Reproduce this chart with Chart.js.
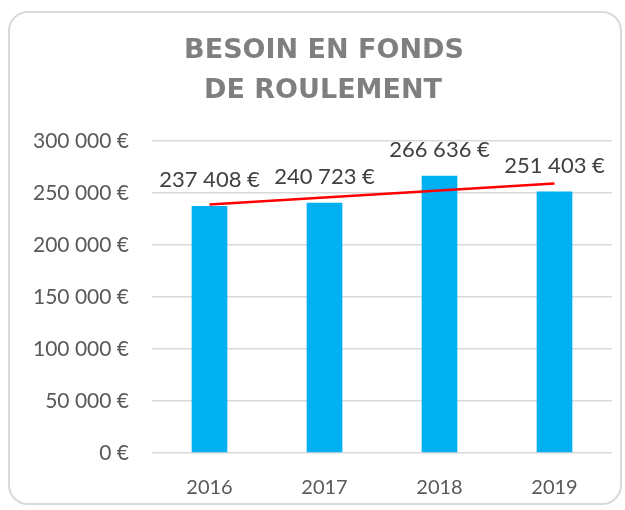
<!DOCTYPE html>
<html>
<head>
<meta charset="utf-8">
<script src="https://cdn.jsdelivr.net/npm/chart.js@4/dist/chart.umd.min.js"></script>
<style>
  html, body { margin: 0; padding: 0; background: #fff; }
  #wrap { position: relative; width: 625px; height: 510px; overflow: hidden; }
  #frame {
    position: absolute; left: 8px; top: 11px; width: 614px; height: 494px;
    border: 2px solid #d9d9d9; border-radius: 20px; box-sizing: border-box;
  }
  canvas { position: absolute; left: 0; top: 0; }
</style>
</head>
<body>
<div id="wrap">
  <div id="frame"></div>
  <canvas id="bfrChart" width="625" height="510"></canvas>
</div>
<script>
// ========= Data =========
const years = ['2016', '2017', '2018', '2019'];
const bfrValues = [237408, 240723, 266636, 251403];
const valueLabels = ['237 408 €', '240 723 €', '266 636 €', '251 403 €'];
const yTickLabels = ['0 €', '50 000 €', '100 000 €', '150 000 €', '200 000 €', '250 000 €', '300 000 €'];
const titleLines = ['BESOIN EN FONDS', 'DE ROULEMENT'];

// linear trend (least squares) like the Excel trendline
function trend(vals) {
  const n = vals.length;
  const mx = (n + 1) / 2;
  const my = vals.reduce((a, b) => a + b, 0) / n;
  let num = 0, den = 0;
  vals.forEach((v, i) => { num += (i + 1 - mx) * (v - my); den += (i + 1 - mx) ** 2; });
  const slope = num / den;
  return vals.map((v, i) => my + slope * (i + 1 - mx));
}

// ========= Plugins =========
const titlePlugin = {
  id: 'titleText',
  afterDraw(chart) {
    const ctx = chart.ctx;
    ctx.save();
    ctx.fillStyle = '#7f7f7f';
    ctx.font = 'bold 27px "DejaVu Sans"';
    ctx.textAlign = 'center';
    ctx.textBaseline = 'middle';
    ctx.fillText(titleLines[0], 324, 51);
    ctx.fillText(titleLines[1], 323, 91);
    ctx.restore();
  }
};

const labelPlugin = {
  id: 'barLabels',
  afterDatasetsDraw(chart) {
    const ctx = chart.ctx;
    const meta = chart.getDatasetMeta(1); // the bars
    ctx.save();
    ctx.fillStyle = '#404040';
    ctx.font = '22px Lato';
    ctx.textAlign = 'center';
    ctx.textBaseline = 'middle';
    meta.data.forEach((bar, i) => {
      ctx.fillText(valueLabels[i], bar.x, bar.y - 26);
    });
    ctx.restore();
  }
};

// ========= Chart =========
const ctx = document.getElementById('bfrChart').getContext('2d');
new Chart(ctx, {
  data: {
    labels: years,
    datasets: [
      {
        type: 'line',
        data: trend(bfrValues),
        borderColor: '#ff0000',
        borderWidth: 2.5,
        pointRadius: 0,
        fill: false,
        order: 0
      },
      {
        type: 'bar',
        data: bfrValues,
        backgroundColor: '#00b0f0',
        categoryPercentage: 1,
        barPercentage: 0.31,
        order: 1
      }
    ]
  },
  options: {
    responsive: false,
    animation: false,
    layout: { padding: { left: 0, right: 13, top: 141, bottom: 0 } },
    plugins: { legend: { display: false }, tooltip: { enabled: false } },
    scales: {
      x: {
        grid: { display: false },
        border: { display: false },
        ticks: { color: '#595959', font: { family: 'Lato', size: 20 }, padding: 15 },
        afterFit(scale) { scale.height = 57; }
      },
      y: {
        min: 0,
        max: 300000,
        grid: { color: '#d9d9d9', lineWidth: 1.5, drawTicks: false },
        border: { display: false },
        ticks: {
          stepSize: 50000,
          color: '#595959',
          font: { family: 'Lato', size: 21 },
          padding: 23,
          callback: (v, i) => yTickLabels[i]
        },
        afterFit(scale) { scale.width = 152; }
      }
    }
  },
  plugins: [titlePlugin, labelPlugin]
});
</script>
</body>
</html>
